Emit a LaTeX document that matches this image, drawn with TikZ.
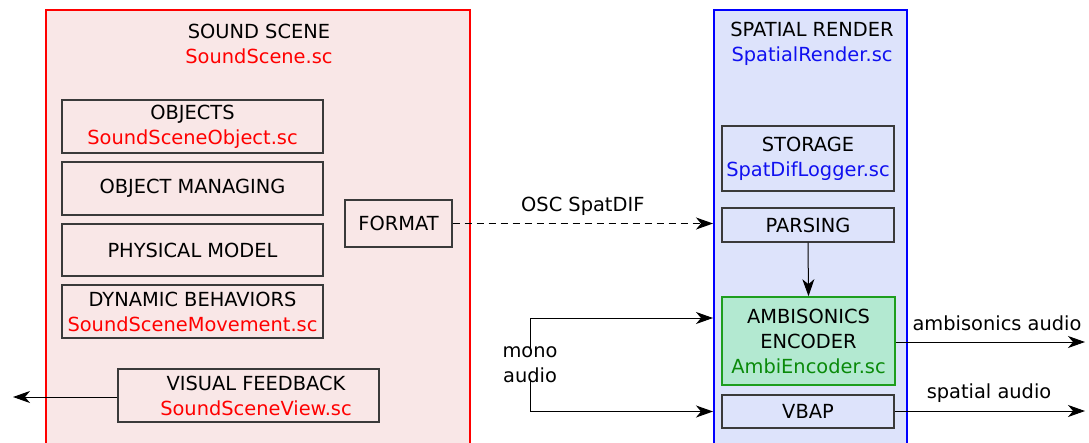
\documentclass[tikz,border=0pt]{standalone}
\usepackage{fontspec}
\setmainfont{DejaVu Sans}
\usetikzlibrary{arrows.meta}
\definecolor{pinkfill}{HTML}{F9E7E7}
\definecolor{bluefill}{HTML}{DDE3FB}
\definecolor{greenfill}{HTML}{B3E9D1}
\definecolor{greenline}{HTML}{1E9E1E}
\definecolor{greentext}{HTML}{0A8A0A}
\definecolor{boxline}{HTML}{3A3A3A}
\definecolor{redtext}{HTML}{FF0000}
\definecolor{bluetext}{HTML}{1010F0}
\begin{document}
\begin{tikzpicture}[x=1pt,y=-1pt,
  every node/.style={font=\fontsize{19.4}{25}\selectfont, align=center, inner sep=0pt},
  inbox/.style={draw=boxline, line width=1.2pt, minimum width=#1},
  conn/.style={line width=1pt, -{Stealth[length=17pt,width=12pt,inset=5pt]}},
  plain/.style={line width=1pt}]
\useasboundingbox (0,0) rectangle (1089,442);
% containers
\node[draw=red, fill=pinkfill, line width=1.6pt, minimum width=424pt, minimum height=440pt, anchor=north west] (scene) at (45,9) {};
\node[draw=blue, fill=bluefill, line width=1.6pt, minimum width=193pt, minimum height=440pt, anchor=north west] (render) at (713,9) {};
% sound scene
\node (sceneT) at (259,44) {SOUND SCENE\\\textcolor{redtext}{SoundScene.sc}};
\node[inbox=261pt, minimum height=53pt] (obj) at (192.5,126.5) {OBJECTS\\\textcolor{redtext}{SoundSceneObject.sc}};
\node[inbox=261pt, minimum height=53pt] (man) at (192.5,188.5) {OBJECT MANAGING};
\node[inbox=261pt, minimum height=52pt] (phys) at (192.5,250) {PHYSICAL MODEL};
\node[inbox=261pt, minimum height=53pt] (dyn) at (192.5,311.5) {DYNAMIC BEHAVIORS\\\textcolor{redtext}{SoundSceneMovement.sc}};
\node[inbox=107pt, minimum height=47pt] (fmt) at (398.5,223.5) {FORMAT};
\node[inbox=261pt, minimum height=53pt] (vis) at (248.5,395.5) {};
\node (visT) at (256,396) {VISUAL FEEDBACK\\\textcolor{redtext}{SoundSceneView.sc}};
\coordinate (visOut) at (13,397);
% spatial render
\node (renderT) at (812,44) {SPATIAL RENDER\\\textcolor{bluetext}{SpatialRender.sc}};
\node[inbox=172pt, minimum height=65pt] (stor) at (808,158.5) {STORAGE\\\textcolor{bluetext}{SpatDifLogger.sc}};
\node[inbox=172pt, minimum height=34pt] (pars) at (808,225) {PARSING};
\node[draw=greenline, fill=greenfill, line width=1.6pt, minimum width=173pt, minimum height=88pt] (amb) at (808.5,341) {AMBISONICS\\ENCODER\\\textcolor{greentext}{AmbiEncoder.sc}};
\node[inbox=172pt, minimum height=33pt] (vbap) at (808,411.5) {VBAP};
% connectors
\draw[conn] (vis.west |- visOut) -- (visOut);
\draw[conn, dashed, dash pattern=on 7pt off 5pt] (fmt.east) -- (render.west |- fmt.east) node[midway, above=7pt] (oscT) {OSC SpatDIF};
\draw[conn] (pars.south) -- (amb.north);
\node (mono) at (530,365) {mono\\audio};
\draw[conn] ([yshift=-4pt]mono.north) |- (render.west |- 0,318);
\draw[conn] ([yshift=4pt]mono.south) |- (render.west |- vbap.center);
\coordinate (ambOut) at (1085,342);
\coordinate (vbapOut) at (1085,411);
\draw[conn] (amb.east |- ambOut) -- (ambOut);
\draw[conn] (vbap.east |- vbapOut) -- (vbapOut);
\node (ambT) at (997,323) {ambisonics audio};
\node (spT) at (989,393) {spatial audio};
\end{tikzpicture}
\end{document}
